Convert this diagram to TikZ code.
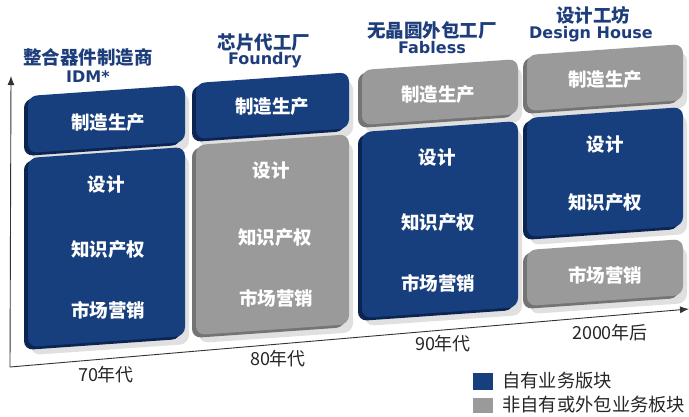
\documentclass[tikz,border=0pt]{standalone}
\usepackage{fontspec}
\setmainfont{Noto Sans CJK SC}
\newfontfamily\latinb{DejaVu Sans}
\usetikzlibrary{arrows.meta}
\definecolor{bblue}{HTML}{173F7E}
\definecolor{bblueD}{HTML}{0B2452}
\definecolor{bgrey}{HTML}{9A9A9A}
\definecolor{bgreyD}{HTML}{747474}
\definecolor{htext}{HTML}{1E3D7B}
\newcommand\blk[6]{%
  \fill[black!12, rounded corners=9] ({#1+3},{#3+8}) -- ({#2+4},{#3+8-0.07*(#2-#1)}) -- ({#2+4},{#4+8-0.07*(#2-#1)}) -- ({#1+3},{#4+8}) -- cycle;
  \fill[#6, rounded corners=9] ({#1-4},{#3+3}) -- ({#2-4},{#3+3-0.07*(#2-#1)}) -- ({#2-4},{#4+3-0.07*(#2-#1)}) -- ({#1-4},{#4+3}) -- cycle;
  \fill[#5, rounded corners=9] ({#1},{#3}) -- ({#2},{#3-0.07*(#2-#1)}) -- ({#2},{#4-0.07*(#2-#1)}) -- ({#1},{#4}) -- cycle;
}
\tikzset{
  btxt/.style={text=white, font=\fontsize{18.5}{20}\selectfont\bfseries, inner sep=0pt},
  head/.style={text=htext, font=\fontsize{18.5}{20}\selectfont\bfseries, inner sep=0pt},
  headl/.style={text=htext, font=\fontsize{16}{18}\selectfont\latinb\bfseries, inner sep=0pt},
  year/.style={text=black!85, font=\fontsize{18}{20}\selectfont, inner sep=0pt},
  legtxt/.style={text=black!85, font=\fontsize{18.3}{20}\selectfont, inner sep=0pt, anchor=west},
  axis/.style={draw=black!80, line width=0.9pt, -{Latex[length=9pt,width=7pt]}}
}
\begin{document}
\begin{tikzpicture}[x=1pt,y=-1pt]
\useasboundingbox (0,0) rectangle (689,416);
% blocks
\blk{28}{185}{96}{153}{bblue}{bblueD}
\blk{28}{185}{158}{347}{bblue}{bblueD}
\blk{196}{349}{83}{139}{bblue}{bblueD}
\blk{196}{349}{145}{335}{bgrey}{bgreyD}
\blk{362}{518}{70}{125}{bgrey}{bgreyD}
\blk{362}{518}{132}{318}{bblue}{bblueD}
\blk{527}{683}{55}{111}{bgrey}{bgreyD}
\blk{527}{683}{118}{237}{bblue}{bblueD}
\blk{527}{683}{250}{306}{bgrey}{bgreyD}
% axes
\coordinate (O) at (10,367);
\coordinate (Y) at (11,76);
\coordinate (X) at (689,309);
\draw[axis] (O) -- (Y);
\draw[axis] (O) -- (X);
% headings
\node[head] (h1) at (88,57) {整合器件制造商};
\node[headl] (h1b) at (88,77) {IDM*};
\node[head] (h2) at (264,43) {芯片代工厂};
\node[headl] (h2b) at (265,60) {Foundry};
\node[head] (h3) at (432,30) {无晶圆外包工厂};
\node[headl] (h3b) at (432,48) {Fabless};
\node[head] (h4) at (593,15) {设计工坊};
\node[headl] (h4b) at (591,34) {Design House};
% block texts
\node[btxt] (a1) at (108,123) {制造生产};
\node[btxt] (a2) at (106,185) {设计};
\node[btxt] (a3) at (108,250) {知识产权};
\node[btxt] (a4) at (108,310) {市场营销};
\node[btxt] (b1) at (272,107) {制造生产};
\node[btxt] (b2) at (271,171) {设计};
\node[btxt] (b3) at (275,238) {知识产权};
\node[btxt] (b4) at (276,298) {市场营销};
\node[btxt] (c1) at (438,95) {制造生产};
\node[btxt] (c2) at (437,158) {设计};
\node[btxt] (c3) at (438,223) {知识产权};
\node[btxt] (c4) at (438,283) {市场营销};
\node[btxt] (d1) at (605,80) {制造生产};
\node[btxt] (d2) at (605,145) {设计};
\node[btxt] (d3) at (605,203) {知识产权};
\node[btxt] (d4) at (605,275) {市场营销};
% years
\node[year] (y1) at (106,375) {70年代};
\node[year] (y2) at (278,359) {80年代};
\node[year] (y3) at (443,344) {90年代};
\node[year] (y4) at (610,333) {2000年后};
% legend
\fill[bblue] (473,373) rectangle (493,390);
\fill[bgrey] (473,398) rectangle (493,413);
\node[legtxt] (l1) at (502,381) {自有业务版块};
\node[legtxt] (l2) at (502,405) {非自有或外包业务板块};
\end{tikzpicture}
\end{document}
